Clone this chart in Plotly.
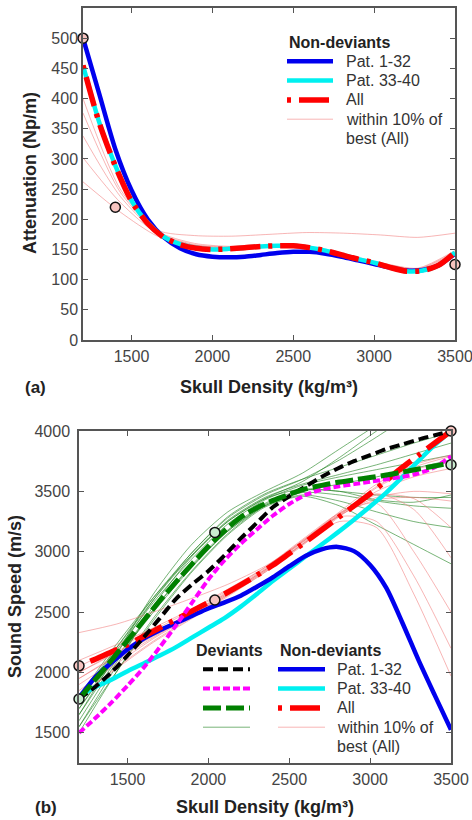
import plotly.graph_objects as go

# ---------------- Panel (a): attenuation vs skull density ----------------
att_x = [1200, 1300, 1400, 1500, 1600, 1700, 1800, 1900, 2000, 2100, 2200, 2300,
         2400, 2500, 2600, 2700, 2800, 2900, 3000, 3100, 3200, 3300, 3400, 3500]
att_pat1_32 = [500, 408, 316, 248, 200, 170, 152, 142, 138, 137, 138, 141,
               144, 146, 146, 143, 138, 132, 126, 120, 115, 116, 124, 143]
att_pat33_40 = [455, 361, 289, 231, 194, 171, 159, 153, 150, 151, 153, 155,
                156, 156, 153, 148, 141, 134, 128, 120, 114, 115, 124, 145]
att_all = [455, 360, 288, 230, 193, 170, 158, 152, 150, 151, 153, 155,
           156, 156, 153, 148, 141, 134, 128, 120, 114, 115, 124, 145]

near_x = [1200, 1430, 1660, 1890, 2120, 2350, 2580, 2810, 3040, 3270, 3500]
att_near = [
    [400, 250, 182, 173, 172, 175, 178, 177, 174, 170, 177],
    [376, 245, 180, 160, 155, 157, 155, 142, 126, 115, 142],
    [338, 238, 178, 158, 154, 156, 154, 141, 127, 117, 144],
    [302, 228, 176, 157, 153, 155, 153, 142, 128, 118, 146],
    [262, 212, 172, 156, 152, 154, 152, 141, 128, 119, 148],
]

att_pts_x = [1200, 1400, 3500]
att_pts_y = [500, 220, 125]

# ---------------- Panel (b): sound speed vs skull density ----------------
ss_x = att_x
ss_pat1_32 = [1790, 1960, 2080, 2190, 2280, 2350, 2410, 2470, 2530, 2580, 2635, 2710,
              2790, 2880, 2965, 3020, 3040, 3005, 2890, 2700, 2410, 2100, 1810, 1525]
ss_pat33_40 = [1800, 1880, 1940, 2010, 2075, 2140, 2210, 2290, 2370, 2450, 2545, 2650,
               2760, 2860, 2960, 3060, 3160, 3265, 3375, 3490, 3620, 3755, 3885, 4000]
ss_all = [2055, 2110, 2170, 2230, 2300, 2370, 2440, 2510, 2580, 2650, 2725, 2805,
          2890, 2985, 3080, 3180, 3280, 3380, 3480, 3590, 3700, 3800, 3900, 4000]

ss_dev_pat1_32 = [1780, 1880, 2000, 2140, 2290, 2450, 2610, 2730, 2840, 2970, 3110, 3240,
                  3370, 3460, 3540, 3620, 3690, 3750, 3800, 3850, 3890, 3930, 3965, 4000]
ss_dev_pat33_40 = [1500, 1620, 1750, 1890, 2040, 2210, 2390, 2580, 2770, 2930, 3065, 3185,
                   3300, 3395, 3470, 3515, 3540, 3560, 3580, 3600, 3620, 3650, 3700, 3790]
ss_dev_all = [1780, 1940, 2100, 2265, 2430, 2595, 2750, 2900, 3045, 3175, 3285, 3365,
              3425, 3475, 3520, 3550, 3575, 3595, 3615, 3635, 3660, 3685, 3710, 3735]

dev_near = [
    [1650, 2150, 2650, 3050, 3330, 3500, 3650, 3850, 4050, 4250, 4450],
    [1700, 2150, 2600, 2980, 3280, 3470, 3600, 3760, 3950, 4150, 4350],
    [1550, 2050, 2550, 2950, 3250, 3440, 3580, 3780, 4000, 4200, 4400],
    [1750, 2180, 2580, 2930, 3230, 3430, 3550, 3620, 3680, 3740, 3800],
    [1800, 2200, 2600, 2960, 3260, 3450, 3560, 3640, 3720, 3810, 3900],
    [1600, 2080, 2520, 2880, 3180, 3400, 3510, 3500, 3430, 3410, 3470],
    [1700, 2120, 2520, 2870, 3170, 3390, 3490, 3470, 3420, 3380, 3360],
    [1500, 2000, 2450, 2830, 3150, 3380, 3470, 3420, 3330, 3250, 3200],
    [1550, 2000, 2430, 2820, 3140, 3370, 3460, 3380, 3220, 3060, 2900],
    [1800, 2230, 2620, 2960, 3250, 3440, 3520, 3500, 3470, 3450, 3450],
    [1650, 2100, 2500, 2860, 3170, 3380, 3500, 3560, 3620, 3690, 3760],
    [1750, 2200, 2620, 2980, 3290, 3480, 3600, 3700, 3800, 3900, 3990],
]
nondev_near = [
    [2330, 2400, 2500, 2610, 2730, 2880, 3080, 3310, 3540, 3700, 3790],
    [2000, 2170, 2330, 2490, 2660, 2850, 3060, 3300, 3530, 3680, 3740],
    [1850, 2070, 2280, 2460, 2640, 2830, 3050, 3290, 3500, 3620, 3690],
    [1950, 2130, 2300, 2470, 2650, 2840, 3070, 3300, 3450, 3500, 3480],
    [1800, 2030, 2250, 2440, 2630, 2830, 3060, 3300, 3430, 3450, 3420],
    [2100, 2230, 2370, 2520, 2690, 2870, 3090, 3310, 3470, 3440, 3200],
    [1900, 2100, 2290, 2470, 2650, 2850, 3080, 3320, 3480, 3350, 2950],
    [2050, 2200, 2350, 2510, 2680, 2870, 3100, 3320, 3400, 3000, 2500],
    [1950, 2140, 2310, 2480, 2660, 2850, 3080, 3290, 3250, 2800, 2200],
    [1800, 2040, 2260, 2450, 2640, 2840, 3060, 3250, 3200, 2650, 1970],
    [2000, 2160, 2320, 2490, 2670, 2860, 3090, 3330, 3560, 3720, 3800],
]

ss_pts_nondev_x = [1200, 2040, 3500]
ss_pts_nondev_y = [2055, 2600, 4000]
ss_pts_dev_x = [1200, 2040, 3500]
ss_pts_dev_y = [1780, 3160, 3720]

density_ticks = [1500, 2000, 2500, 3000, 3500]
att_ticks = [0, 50, 100, 150, 200, 250, 300, 350, 400, 450, 500]
ss_ticks = [1500, 2000, 2500, 3000, 3500, 4000]

# ---------------- styling ----------------
FONT = "Arial, Liberation Sans, sans-serif"
BLUE = "#0000ee"
CYAN = "#00f0f0"
RED = "#ff0000"
BLACK = "#000000"
MAGENTA = "#ff00ff"
GREEN = "#008000"
PINK_THIN = "rgba(240,120,120,0.55)"
GREEN_THIN = "rgba(30,130,30,0.6)"
PINK_DOT = "#f6c4c0"
GREEN_DOT = "#c9ecd0"

STYLE = {
    "pat1": dict(color=BLUE, width=4.5, dash="solid"),
    "pat33": dict(color=CYAN, width=4.5, dash="solid"),
    "all": dict(color=RED, width=5.5, dash="4px,8px,30px,8px"),
    "near": dict(color=PINK_THIN, width=1, dash="solid"),
    "d_pat1": dict(color=BLACK, width=4, dash="10px,5px"),
    "d_pat33": dict(color=MAGENTA, width=4, dash="7px,3px"),
    "d_all": dict(color=GREEN, width=5, dash="18px,5px"),
    "d_near": dict(color=GREEN_THIN, width=1, dash="solid"),
}

fig = go.Figure()


def curve(x, y, key, xa="x", ya="y"):
    st = STYLE[key]
    fig.add_trace(go.Scatter(
        x=x, y=y, mode="lines", showlegend=False, hoverinfo="skip",
        line=dict(color=st["color"], width=st["width"], dash=st["dash"],
                  shape="spline", smoothing=0.7),
        xaxis=xa, yaxis=ya))


def dots(x, y, fill, xa="x", ya="y"):
    fig.add_trace(go.Scatter(
        x=x, y=y, mode="markers", showlegend=False, cliponaxis=False,
        hoverinfo="skip", xaxis=xa, yaxis=ya,
        marker=dict(size=10, color=fill, line=dict(color="#111", width=1.5))))


# panel (a)
for yv in att_near:
    curve(near_x, yv, "near")
curve(att_x, att_pat1_32, "pat1")
curve(att_x, att_pat33_40, "pat33")
curve(att_x, att_all, "all")
dots(att_pts_x, att_pts_y, PINK_DOT)

# panel (b)
for yv in dev_near:
    curve(near_x, yv, "d_near", "x2", "y2")
for yv in nondev_near:
    curve(near_x, yv, "near", "x2", "y2")
curve(ss_x, ss_pat33_40, "pat33", "x2", "y2")
curve(ss_x, ss_pat1_32, "pat1", "x2", "y2")
curve(ss_x, ss_all, "all", "x2", "y2")
curve(ss_x, ss_dev_pat33_40, "d_pat33", "x2", "y2")
curve(ss_x, ss_dev_pat1_32, "d_pat1", "x2", "y2")
curve(ss_x, ss_dev_all, "d_all", "x2", "y2")
dots(ss_pts_nondev_x, ss_pts_nondev_y, PINK_DOT, "x2", "y2")
dots(ss_pts_dev_x, ss_pts_dev_y, GREEN_DOT, "x2", "y2")

# ---------------- layout ----------------
W, H = 472, 820


def px_x(v):
    return v / W


def px_y(v):
    return (H - v) / H


axis_common = dict(
    showline=True, linecolor="#555", linewidth=1.5, mirror="ticks",
    ticks="inside", ticklen=5, tickwidth=1.2, tickcolor="#555",
    showgrid=False, zeroline=False, automargin=False, ticklabeloverflow="allow",
    tickfont=dict(family=FONT, size=16, color="#444"),
)
title_font = dict(family=FONT, size=18, color="#222")
legend_font = dict(family=FONT, size=16, color="#333")
legend_title_font = dict(family=FONT, size=16, color="#222")

# legend blocks: (title, title x, sample x0, sample x1, text x, title row y, entries)
ROW = 19.3
legend_blocks = [
    ("Non-deviants", 287, 287, 333, 344, 42,
     [("pat1", "Pat. 1-32"), ("pat33", "Pat. 33-40"), ("all", "All"),
      ("near", "within 10% of"), (None, "best (All)")]),
    ("Deviants", 194, 203, 250, None, 650,
     [("d_pat1", ""), ("d_pat33", ""), ("d_all", ""), ("d_near", "")]),
    ("Non-deviants", 278, 278, 325, 335, 650,
     [("pat1", "Pat. 1-32"), ("pat33", "Pat. 33-40"), ("all", "All"),
      ("near", "within 10% of"), (None, "best (All)")]),
]

shapes = []
annotations = []
for title, tx, sx0, sx1, textx, y0, entries in legend_blocks:
    annotations.append(dict(
        text="<b>%s</b>" % title, x=px_x(tx), y=px_y(y0), xref="paper", yref="paper",
        xanchor="left", yanchor="middle", showarrow=False, font=legend_title_font))
    for i, (key, label) in enumerate(entries):
        yy = y0 + ROW * (i + 1)
        if key is not None:
            st = STYLE[key]
            shapes.append(dict(
                type="line", xref="paper", yref="paper",
                x0=px_x(sx0), x1=px_x(sx1), y0=px_y(yy), y1=px_y(yy),
                line=dict(color=st["color"], width=st["width"], dash=st["dash"])))
        if label and textx is not None:
            annotations.append(dict(
                text=label, x=px_x(textx), y=px_y(yy), xref="paper", yref="paper",
                xanchor="left", yanchor="middle", showarrow=False, font=legend_font))

annotations += [
    # vertical axis titles
    dict(text="<b>Attenuation (Np/m)</b>", x=px_x(30), y=px_y(173), xref="paper",
         yref="paper", xanchor="center", yanchor="middle", textangle=-90,
         showarrow=False, font=title_font),
    dict(text="<b>Sound Speed (m/s)</b>", x=px_x(15), y=px_y(597), xref="paper",
         yref="paper", xanchor="center", yanchor="middle", textangle=-90,
         showarrow=False, font=title_font),
    # panel labels
    dict(text="<b>(a)</b>", x=px_x(23), y=px_y(387), xref="paper", yref="paper",
         xanchor="left", yanchor="middle", showarrow=False,
         font=dict(family=FONT, size=17, color="#222")),
    dict(text="<b>(b)</b>", x=px_x(33), y=px_y(807), xref="paper", yref="paper",
         xanchor="left", yanchor="middle", showarrow=False,
         font=dict(family=FONT, size=17, color="#222")),
]

fig.update_layout(
    width=W, height=H, margin=dict(l=0, r=0, t=0, b=0),
    paper_bgcolor="white", plot_bgcolor="white", showlegend=False,
    xaxis=dict(domain=[px_x(83), px_x(455)], range=[1200, 3500], tickvals=density_ticks,
               anchor="y", ticklabelstandoff=1,
               title=dict(text="<b>Skull Density (kg/m³)</b>", font=title_font, standoff=16),
               **axis_common),
    yaxis=dict(domain=[px_y(340), px_y(8)], range=[0, 550], tickvals=att_ticks,
               anchor="x", **axis_common),
    xaxis2=dict(domain=[px_x(79), px_x(451)], range=[1200, 3500], tickvals=density_ticks,
                anchor="y2", ticklabelstandoff=1,
                title=dict(text="<b>Skull Density (kg/m³)</b>", font=title_font, standoff=13),
                **axis_common),
    yaxis2=dict(domain=[px_y(763), px_y(431)], range=[1250, 4000], tickvals=ss_ticks,
                anchor="x2", ticklabelstandoff=4, **axis_common),
    shapes=shapes,
    annotations=annotations,
)

fig.write_html("out.html")
